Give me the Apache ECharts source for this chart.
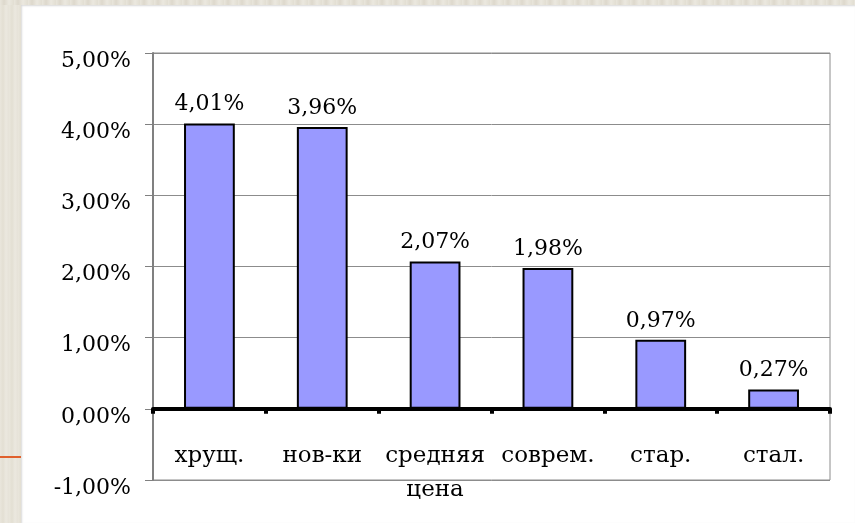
<!DOCTYPE html>
<html>
<head>
<meta charset="utf-8">
<script src="https://cdn.jsdelivr.net/npm/echarts@6/dist/echarts.min.js"></script>
<style>
  html, body { margin: 0; padding: 0; background: #ffffff; }
  #stripe-left { position: absolute; left: 0; top: 0; width: 21px; height: 523px;
    background: repeating-linear-gradient(90deg, #e9e6dc 0px, #e3dfd3 3px, #ebe8df 6px, #e6e2d8 9px); }
  #stripe-top { position: absolute; left: 0; top: 0; width: 855px; height: 5px;
    background: repeating-linear-gradient(90deg, #e9e6dc 0px, #ddd8cc 4px, #ebe8df 9px, #e2ded2 14px); }
  #edge { position: absolute; left: 21px; top: 5px; width: 834px; height: 518px;
    box-shadow: inset 1px 1px 2px rgba(0,0,0,0.15); }
  #accent { position: absolute; left: 0; top: 456px; width: 21px; height: 2px; background: #e0602c; }
  #chart { position: absolute; left: 0; top: 0; width: 855px; height: 523px; }
</style>
</head>
<body>
<div id="stripe-left"></div>
<div id="stripe-top"></div>
<div id="edge"></div>
<div id="accent"></div>
<div id="chart"></div>
<script>
// категории и значения (в процентах)
const categories = ['хрущ.', 'нов-ки', 'средняя\nцена', 'соврем.', 'стар.', 'стал.']
const values = [4.01, 3.96, 2.07, 1.98, 0.97, 0.27]

const fmt = function (v) {
  return Number(v).toFixed(2).replace('.', ',') + '%'
}

let chart = echarts.init(document.getElementById('chart'))
const options = {
  animation: false,
  backgroundColor: 'transparent',
  textStyle: { fontFamily: 'DejaVu Serif' },
  grid: {
    left: 153,
    right: 25,
    top: 53,
    bottom: 43,
    outerBoundsMode: 'none',
    containLabel: false,
    show: true,
    borderColor: '#8c8c8c',
    borderWidth: 1,
    backgroundColor: 'transparent'
  },
  xAxis: {
    type: 'category',
    data: categories,
    axisLine: { onZero: true, lineStyle: { color: '#000', width: 4 } },
    axisTick: { show: true, alignWithLabel: false, length: 5, lineStyle: { color: '#000', width: 4 } },
    axisLabel: {
      interval: 0,
      margin: -41,
      fontSize: 23,
      lineHeight: 34,
      color: '#000',
      fontFamily: 'DejaVu Serif'
    },
    splitLine: { show: false }
  },
  yAxis: {
    type: 'value',
    min: -1,
    max: 5,
    interval: 1,
    axisLine: { show: true, lineStyle: { color: '#808080', width: 2 } },
    axisTick: { show: true, length: 8, lineStyle: { color: '#808080' } },
    axisLabel: {
      formatter: fmt,
      margin: 22,
      fontSize: 22,
      color: '#000',
      verticalAlign: 'top',
      lineHeight: 16,
      fontFamily: 'DejaVu Serif'
    },
    splitLine: { show: true, lineStyle: { color: '#8c8c8c', width: 1 } }
  },
  series: [
    {
      type: 'bar',
      data: values,
      barWidth: '45%',
      itemStyle: { color: '#9999ff', borderColor: '#000', borderWidth: 2 },
      label: {
        show: true,
        position: 'top',
        distance: 8,
        formatter: function (p) { return fmt(p.value) },
        fontSize: 22,
        color: '#000',
        fontFamily: 'DejaVu Serif'
      }
    }
  ]
}
chart.setOption(options)
</script>
</body>
</html>
